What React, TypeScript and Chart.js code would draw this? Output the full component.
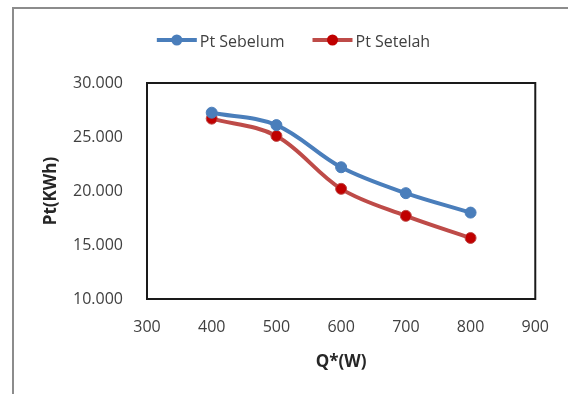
import React, { useEffect, useRef } from "react";
import { Chart, registerables } from "chart.js";

Chart.register(...registerables);

// ---- data ----
const xValues = [400, 500, 600, 700, 800];
const ptSebelum = [27.25, 26.1, 22.2, 19.8, 18.0];
const ptSetelah = [26.7, 25.1, 20.2, 17.7, 15.65];
const seriesLabels = ["Pt Sebelum", "Pt Setelah"];
const xTitle = "Q*(W)";
const yTitle = "Pt(KWh)";
const xMin = 300;
const xMax = 900;
const xStep = 100;
const yMin = 10;
const yMax = 30;
const yStep = 5;

const FONT = "'Open Sans', 'Noto Sans', sans-serif";
const BLUE = "#4a7ebb";
const RED_LINE = "#be4b48";
const RED_PT = "#c00000";

const framePlugin = {
  id: "frame",
  beforeDraw(chart: any) {
    const ctx = chart.ctx;
    ctx.save();
    ctx.fillStyle = "#ffffff";
    ctx.fillRect(0, 0, chart.width, chart.height);
    ctx.strokeStyle = "#8c8c8c";
    ctx.lineWidth = 2;
    ctx.beginPath();
    ctx.moveTo(12, 8);
    ctx.lineTo(chart.width, 8);
    ctx.moveTo(13, 7);
    ctx.lineTo(13, chart.height);
    ctx.stroke();
    ctx.restore();
  },
};

const plotBorderPlugin = {
  id: "plotBorder",
  beforeDatasetsDraw(chart: any) {
    const { ctx, chartArea } = chart;
    ctx.save();
    ctx.strokeStyle = "#1a1a1a";
    ctx.lineWidth = 2;
    ctx.strokeRect(
      chartArea.left,
      chartArea.top,
      chartArea.right - chartArea.left,
      chartArea.bottom - chartArea.top
    );
    ctx.restore();
  },
};

const legendPlugin = {
  id: "customLegend",
  afterDraw(chart: any) {
    const ctx = chart.ctx;
    ctx.save();
    ctx.font = `16px ${FONT}`;
    const lineLen = 40;
    const gapText = 3;
    const gapItem = 28;
    const ds = chart.data.datasets;
    const widths = ds.map((d: any) => lineLen + gapText + ctx.measureText(d.label).width);
    const total = widths.reduce((a: number, b: number) => a + b, 0) + gapItem * (ds.length - 1);
    let x = 293.5 - total / 2;
    const y = 40;
    ds.forEach((d: any, i: number) => {
      ctx.strokeStyle = d.borderColor;
      ctx.lineWidth = 4;
      ctx.beginPath();
      ctx.moveTo(x, y);
      ctx.lineTo(x + lineLen, y);
      ctx.stroke();
      ctx.fillStyle = d.pointBackgroundColor;
      ctx.beginPath();
      ctx.arc(x + lineLen / 2, y, 5.5, 0, Math.PI * 2);
      ctx.fill();
      ctx.fillStyle = "#404040";
      ctx.textBaseline = "alphabetic";
      ctx.textAlign = "left";
      ctx.fillText(d.label, x + lineLen + gapText, y + 6.5);
      x += widths[i] + gapItem;
    });
    ctx.restore();
  },
};

export default function App() {
  const ref = useRef<HTMLCanvasElement | null>(null);

  useEffect(() => {
    if (!ref.current) return;
    const chart = new Chart(ref.current, {
      type: "line",
      data: {
        datasets: [
          {
            label: seriesLabels[0],
            data: xValues.map((x, i) => ({ x, y: ptSebelum[i] })),
            borderColor: BLUE,
            backgroundColor: BLUE,
            pointBackgroundColor: BLUE,
            pointBorderColor: BLUE,
            borderWidth: 4,
            pointRadius: 5.5,
            pointBorderWidth: 1,
            tension: 0.35,
            fill: false,
          },
          {
            label: seriesLabels[1],
            data: xValues.map((x, i) => ({ x, y: ptSetelah[i] })),
            borderColor: RED_LINE,
            backgroundColor: RED_PT,
            pointBackgroundColor: RED_PT,
            pointBorderColor: RED_LINE,
            borderWidth: 4,
            pointRadius: 5.5,
            pointBorderWidth: 1,
            tension: 0.35,
            fill: false,
          },
        ],
      },
      options: {
        animation: false,
        responsive: false,
        devicePixelRatio: 1,
        layout: { padding: { top: 83, left: 14, right: 31, bottom: 0 } },
        plugins: {
          legend: { display: false },
          tooltip: { enabled: false },
        },
        scales: {
          x: {
            type: "linear",
            min: xMin,
            max: xMax,
            grid: { display: false, drawTicks: false },
            border: { display: false },
            ticks: {
              stepSize: xStep,
              padding: 19,
              color: "#404040",
              font: { family: FONT, size: 16 },
              maxRotation: 0,
            },
            title: {
              display: true,
              text: xTitle,
              color: "#262626",
              font: { family: FONT, size: 17, weight: "bold" },
              padding: { top: 0, bottom: 22 },
            },
            afterFit(scale: any) {
              scale.height = 95;
            },
          },
          y: {
            type: "linear",
            min: yMin,
            max: yMax,
            grid: { display: false, drawTicks: false },
            border: { display: false },
            ticks: {
              stepSize: yStep,
              padding: 24,
              color: "#404040",
              font: { family: FONT, size: 16 },
              callback: (v: any) => Number(v).toFixed(3),
            },
            title: {
              display: true,
              text: yTitle,
              color: "#262626",
              font: { family: FONT, size: 17, weight: "bold" },
              padding: { top: 27, bottom: 0 },
            },
            afterFit(scale: any) {
              scale.width = 133;
            },
          },
        },
      },
      plugins: [framePlugin, plotBorderPlugin, legendPlugin],
    } as any);
    return () => chart.destroy();
  }, []);

  return (
    <div style={{ position: "fixed", left: 0, top: 0, width: 568, height: 394 }}>
      <canvas ref={ref} width={568} height={394} style={{ display: "block", width: 568, height: 394 }} />
    </div>
  );
}
